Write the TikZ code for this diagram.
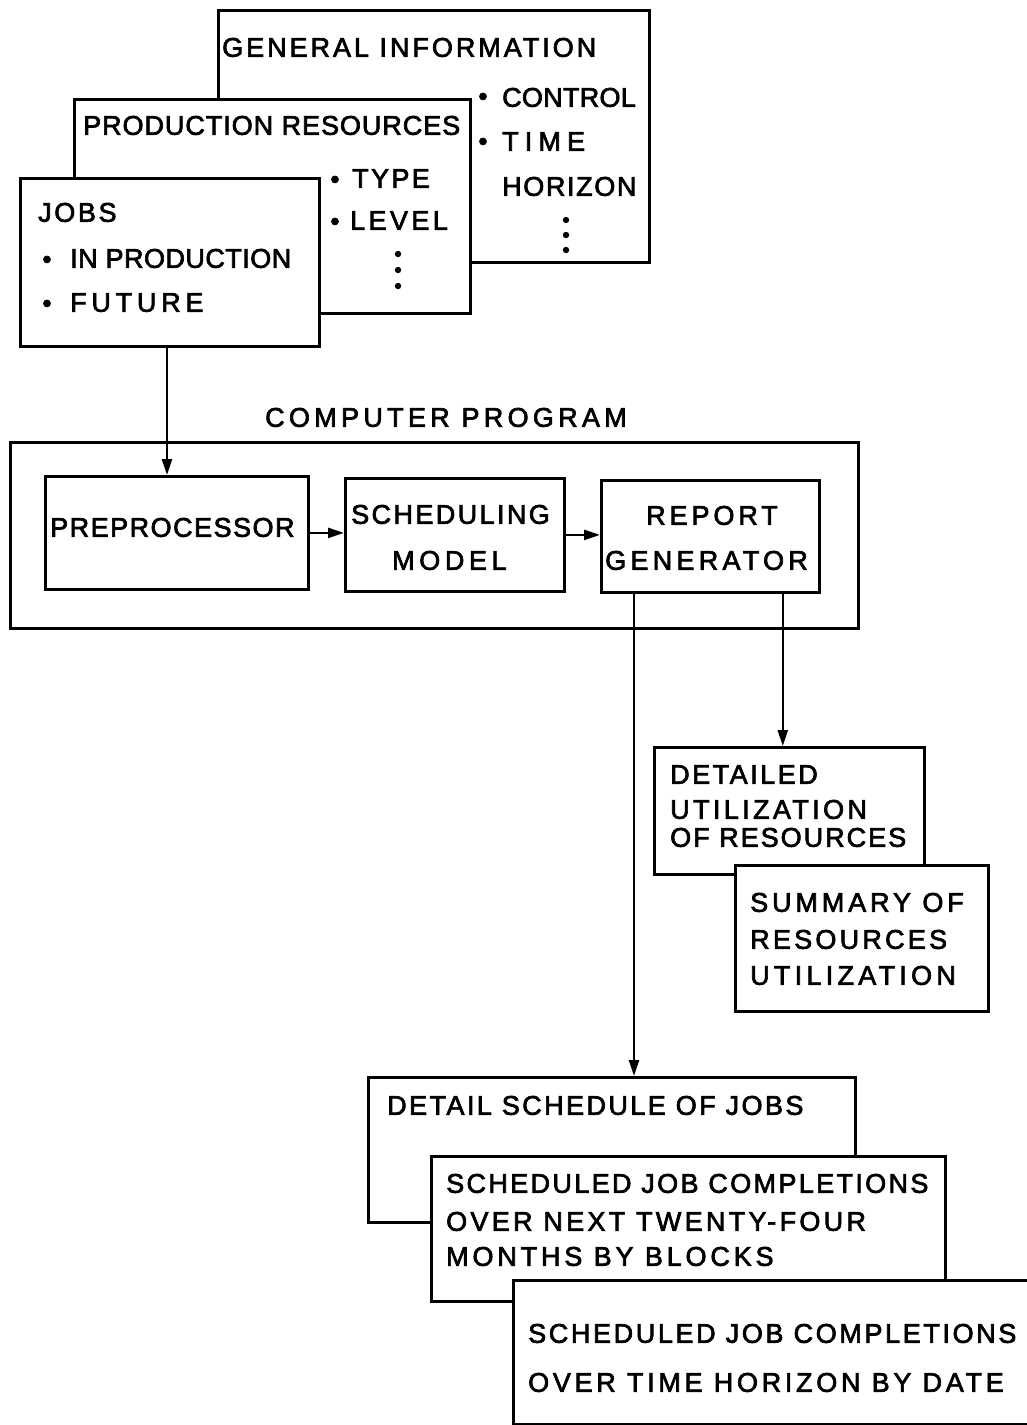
\documentclass[tikz,border=0pt]{standalone}
\usepackage{fontspec}
\setmainfont{Liberation Sans}
\newfontfamily\lab[FakeBold=2.5]{Liberation Sans}
\usetikzlibrary{arrows.meta,calc}
\begin{document}
\begin{tikzpicture}[x=1pt,y=-1pt,
  box/.style={draw,line width=2.8pt,fill=white,anchor=north west,inner sep=0pt},
  lbl/.style={anchor=west,inner sep=0pt,text height=19.5pt,text depth=0pt,
    font={\lab\fontsize{27}{30}\selectfont\addfontfeatures{LetterSpace=#1}}},
  lbl/.default=0,
  bul/.style={inner sep=0pt,font={\lab\fontsize{26}{26}\selectfont}},
  arr/.style={line width=2.4pt,-{Triangle[length=16pt,width=10pt]}}]
\path[use as bounding box,clip] (0,0) rectangle (1027,1425);
\fill[white] (0,0) rectangle (1027,1425);
% ---- input stack
\node[box,minimum width=431pt,minimum height=252pt] (gi) at (217,9) {};
\node[lbl=11] (t1) at (222,47) {GENERAL INFORMATION};
\node[bul] (b1) at (483,99) {•};
\node[lbl=1] (t2) at (502,97) {CONTROL};
\node[bul] (b2) at (483,144) {•};
\node[lbl=22.7] (t3) at (502,141) {TIME};
\node[lbl=6] (t4) at (502,186) {HORIZON};
\fill (566,220) circle (3.2pt) (566,235) circle (3.2pt) (566,250) circle (3.2pt);
\node[box,minimum width=396pt,minimum height=214pt] (pr) at (73,98) {};
\node[lbl=3.5] (t5) at (83,125) {PRODUCTION RESOURCES};
\node[bul] (b3) at (335,182) {•};
\node[lbl=8.8] (t6) at (352,178) {TYPE};
\node[bul] (b4) at (335,224) {•};
\node[lbl=12.6] (t7) at (350,220) {LEVEL};
\fill (398,254) circle (3.2pt) (398,270) circle (3.2pt) (398,286) circle (3.2pt);
\node[box,minimum width=299pt,minimum height=168pt] (jobs) at (19,177) {};
\node[lbl=9.7] (t8) at (38,212) {JOBS};
\node[bul] (b5) at (47,262) {•};
\node[lbl=1.7] (t9) at (70,258) {IN PRODUCTION};
\node[bul] (b6) at (47,306) {•};
\node[lbl=17.6] (t10) at (70,302) {FUTURE};
% ---- computer program
\node[lbl=15.9] (t11) at (265,417) {COMPUTER PROGRAM};
\node[box,minimum width=848pt,minimum height=186pt] (cp) at (9,441) {};
\node[box,minimum width=263pt,minimum height=113pt] (prep) at (44,475) {};
\node[lbl=5.5] (t12) at (50,527) {PREPROCESSOR};
\node[box,minimum width=219pt,minimum height=113pt] (sched) at (344,477) {};
\node[lbl=8.9] (t13) at (351,514) {SCHEDULING};
\node[lbl=17] (t14) at (392,560) {MODEL};
\node[box,minimum width=218pt,minimum height=112pt] (rep) at (600,479) {};
\node[lbl=14.5] (t15) at (646,515) {REPORT};
\node[lbl=15.8] (t16) at (605,560) {GENERATOR};
% ---- utilization outputs
\node[box,minimum width=270pt,minimum height=127pt] (du) at (653,746) {};
\node[lbl=9.3] (t17) at (670,774) {DETAILED};
\node[lbl=12.5] (t18) at (670,809) {UTILIZATION};
\node[lbl=7.4] (t19) at (670,837) {OF RESOURCES};
\node[box,minimum width=253pt,minimum height=146pt] (su) at (734,864) {};
\node[lbl=14.4] (t20) at (750,902) {SUMMARY OF};
\node[lbl=12] (t21) at (750,939) {RESOURCES};
\node[lbl=15.8] (t22) at (750,975) {UTILIZATION};
% ---- schedule outputs
\node[box,minimum width=487pt,minimum height=145pt] (ds) at (367,1076) {};
\node[lbl=9] (t23) at (387,1105) {DETAIL SCHEDULE OF JOBS};
\node[box,minimum width=514pt,minimum height=145pt] (sc) at (430,1155) {};
\node[lbl=8.7] (t24) at (446,1183) {SCHEDULED JOB COMPLETIONS};
\node[lbl=12.2] (t25) at (446,1221) {OVER NEXT TWENTY-FOUR};
\node[lbl=14.2] (t26) at (446,1256) {MONTHS BY BLOCKS};
\node[box,minimum width=588pt,minimum height=144pt] (lt) at (512,1279) {};
\node[lbl=9.7] (t27) at (528,1333) {SCHEDULED JOB COMPLETIONS};
\node[lbl=13.7] (t28) at (528,1382) {OVER TIME HORIZON BY DATE};
% ---- connectors
\coordinate (c1) at ([xshift=148pt]jobs.south west);
\draw[arr] (c1) -- (c1 |- prep.north);
\draw[arr] (prep.east) -- (prep.east -| sched.west);
\draw[arr] (sched.east) -- (sched.east -| rep.west);
\coordinate (c2) at ([xshift=34pt]rep.south west);
\draw[arr] (c2) -- (c2 |- ds.north);
\coordinate (c3) at ([xshift=-38pt]rep.south east);
\draw[arr] (c3) -- (c3 |- du.north);
\end{tikzpicture}
\end{document}
